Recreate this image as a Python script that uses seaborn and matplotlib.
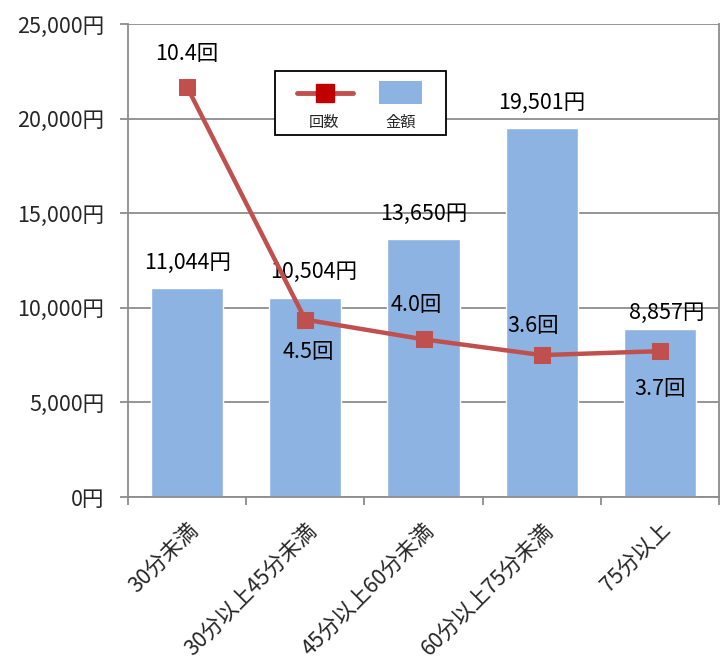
import matplotlib
matplotlib.use("Agg")
import matplotlib.pyplot as plt
import seaborn as sns
import numpy as np
import pandas as pd
from matplotlib.lines import Line2D
from matplotlib.patches import Rectangle

categories = ["30分未満", "30分以上45分未満", "45分以上60分未満", "60分以上75分未満", "75分以上"]
amounts = [11044, 10504, 13650, 19501, 8857]
counts = [10.4, 4.5, 4.0, 3.6, 3.7]
amount_labels = ["11,044円", "10,504円", "13,650円", "19,501円", "8,857円"]
count_labels = ["10.4回", "4.5回", "4.0回", "3.6回", "3.7回"]
yticks = [0, 5000, 10000, 15000, 20000, 25000]
ytick_labels = ["0円", "5,000円", "10,000円", "15,000円", "20,000円", "25,000円"]
legend_labels = ["回数", "金額"]

sns.set_theme(style="white")
plt.rcParams['font.family'] = ['Noto Sans CJK JP', 'DejaVu Sans']

BAR = "#8DB3E2"
LINE = "#C0504D"
GRID = "#8C8C8C"
FS = 15.5

fig = plt.figure(figsize=(7.21, 6.61), dpi=100)
ax = fig.add_axes([128/721, 1-497/661, (719-128)/721, (497-24)/661])

df = pd.DataFrame({"cat": categories, "amount": amounts})
sns.barplot(data=df, x="cat", y="amount", color=BAR, saturation=1, width=0.61, ax=ax, zorder=2)

ax.set_ylim(0, 25000)
ax.set_xlim(-0.5, 4.5)
ax.set_yticks(yticks)
ax.set_yticklabels(ytick_labels, fontsize=FS)
ax.set_xlabel("")
ax.set_ylabel("")
ax.yaxis.grid(True, color=GRID, linewidth=1.3, zorder=0)
ax.set_axisbelow(True)
for s in ["left", "bottom", "right"]:
    ax.spines[s].set_color(GRID)
    ax.spines[s].set_linewidth(1.3)
ax.spines["top"].set_visible(False)
ax.tick_params(axis="y", length=6, width=1.3, color=GRID, pad=11, left=True)

# category labels at centers, tick marks at boundaries
ax.set_xticks(range(len(categories)))
ax.set_xticklabels(categories, fontsize=FS, rotation=45, ha="right", rotation_mode="anchor")
ax.tick_params(axis="x", length=0, pad=16)
ax.set_xticks(np.arange(-0.5, len(categories), 1.0), minor=True)
ax.tick_params(axis="x", which="minor", length=6, width=1.3, color=GRID, bottom=True)

amount_offsets = [(0, 18), (6, 19), (0, 18), (0, 18), (5, 12)]
for i, (v, lab) in enumerate(zip(amounts, amount_labels)):
    ox, oy = amount_offsets[i]
    ax.annotate(lab, (i, v), xytext=(ox, oy), textcoords="offset points",
                ha="center", va="center", fontsize=FS, color="black", zorder=5)

ax2 = ax.twinx()
sns.lineplot(x=np.arange(len(counts)), y=counts, ax=ax2, color=LINE, linewidth=3.2,
             marker="s", markersize=11, markeredgecolor=LINE, markerfacecolor=LINE, zorder=4)
ax2.set_ylim(0, 12)
ax2.set_xlim(-0.5, 4.5)
ax2.set_yticks([])
ax2.set_ylabel("")
for s in ax2.spines.values():
    s.set_visible(False)

count_offsets = [(0, 24), (2, -23), (-5, 25), (-6, 21), (0, -27)]
for i, (v, lab) in enumerate(zip(counts, count_labels)):
    ox, oy = count_offsets[i]
    ax2.annotate(lab, (i, v), xytext=(ox, oy), textcoords="offset points",
                 ha="center", va="center", fontsize=FS, color="black", zorder=6)

# legend drawn manually: handle above label
T = ax2.transAxes
def ax_x(px): return (px - 128) / 591
def ax_y(py): return (497 - py) / 473
box = Rectangle((ax_x(275), ax_y(135)), ax_x(446) - ax_x(275), ax_y(71) - ax_y(135),
                transform=T, facecolor="white", edgecolor="black", linewidth=1.3, zorder=10)
ax2.add_patch(box)
ax2.add_line(Line2D([ax_x(297), ax_x(353)], [ax_y(93), ax_y(93)], transform=T,
                    color=LINE, linewidth=3.5, zorder=11))
ax2.add_line(Line2D([ax_x(325)], [ax_y(93)], transform=T, marker="s", markersize=13,
                    color="#C00000", zorder=12))
ax2.add_patch(Rectangle((ax_x(379), ax_y(104)), ax_x(422) - ax_x(379), ax_y(81) - ax_y(104),
                        transform=T, facecolor=BAR, edgecolor="none", zorder=11))
ax2.text(ax_x(324), ax_y(122), legend_labels[0], transform=T, ha="center", va="center",
         fontsize=11, zorder=12)
ax2.text(ax_x(401), ax_y(122), legend_labels[1], transform=T, ha="center", va="center",
         fontsize=11, zorder=12)

fig.savefig("out.png", dpi=100)
